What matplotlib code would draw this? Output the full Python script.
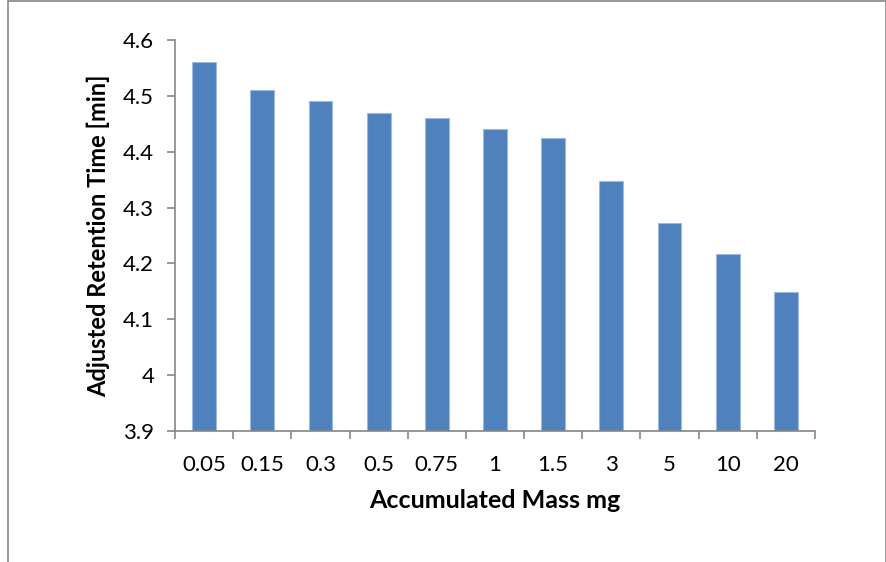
import matplotlib
matplotlib.use("Agg")
import matplotlib.pyplot as plt
from matplotlib.patches import Rectangle
import numpy as np

categories = ["0.05", "0.15", "0.3", "0.5", "0.75", "1", "1.5", "3", "5", "10", "20"]
values = [4.56, 4.51, 4.49, 4.47, 4.46, 4.44, 4.424, 4.347, 4.272, 4.217, 4.149]
yticks = [3.9, 4.0, 4.1, 4.2, 4.3, 4.4, 4.5, 4.6]
ytick_labels = ["3.9", "4", "4.1", "4.2", "4.3", "4.4", "4.5", "4.6"]

plt.rcParams['font.family'] = ['Lato', 'DejaVu Sans']

W, H = 887, 562
fig = plt.figure(figsize=(W / 100, H / 100), dpi=100)
fig.patch.set_facecolor("white")

# outer chart border
fig.add_artist(Rectangle((8 / W, -0.01), (W - 9) / W, 1.0 - 0.5 / H + 0.01,
                         transform=fig.transFigure, fill=False,
                         edgecolor="#868686", linewidth=1.2))

ax = fig.add_axes([175 / W, (H - 431) / H, (815 - 175) / W, (431 - 40) / H])
x = np.arange(len(categories))
ax.bar(x, [v - 3.9 for v in values], bottom=3.9, width=0.41,
       color="#4F81BD", edgecolor="#9DB9DE", linewidth=0.8)

ax.set_xlim(-0.5, len(categories) - 0.5)
ax.set_ylim(3.9, 4.6)
ax.set_yticks(yticks)
ax.set_yticklabels(ytick_labels)
ax.set_xticks(x)
ax.set_xticklabels(categories)
ax.set_xticks(np.arange(-0.5, len(categories), 1.0), minor=True)

for s in ["top", "right"]:
    ax.spines[s].set_visible(False)
for s in ["left", "bottom"]:
    ax.spines[s].set_color("#868686")
    ax.spines[s].set_linewidth(1.2)

ax.tick_params(axis="x", which="major", length=0, pad=17, labelsize=16, colors="black")
ax.tick_params(axis="x", which="minor", length=6, width=1.2, color="#868686", direction="out")
ax.tick_params(axis="y", which="major", length=6, width=1.2, color="#868686",
               direction="out", pad=9, labelsize=16, labelcolor="black")

ax.set_xlabel("Accumulated Mass mg", fontsize=18, fontweight="bold", labelpad=10)
ax.set_ylabel("Adjusted Retention Time [min]", fontsize=17, fontweight="bold", labelpad=9)

fig.savefig("out.png", dpi=100, facecolor="white")
